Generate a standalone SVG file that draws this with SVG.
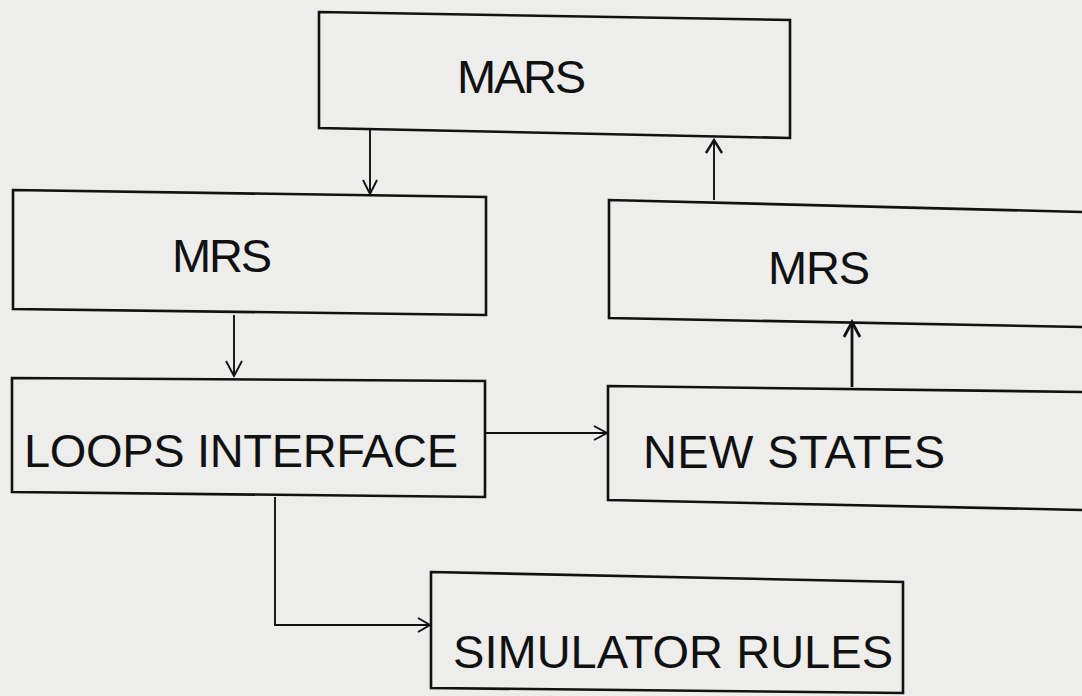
<svg xmlns="http://www.w3.org/2000/svg" width="1082" height="696" viewBox="0 0 1082 696">
<defs>
<style>
.box{fill:none;stroke:#111;stroke-width:2.6;stroke-linejoin:miter}
.lbl{font-family:"Liberation Sans",Arial,sans-serif;font-size:47px;fill:#111}
.con{fill:none;stroke:#111;stroke-width:1.9}
.head{fill:none;stroke:#111;stroke-width:1.9;stroke-linejoin:miter}
</style>
</defs>
<rect x="0" y="0" width="1082" height="696" fill="#ededeb"/>
<g id="mars">
<polygon class="box" points="319,12 790,20 790,138 319,128"/>
<text class="lbl" x="457" y="93" textLength="129">MARS</text>
</g>
<g id="mrs-left">
<polygon class="box" points="13,190 486,197 486,315 13,309"/>
<text class="lbl" x="172" y="272" textLength="100">MRS</text>
</g>
<g id="mrs-right">
<polygon class="box" points="1084,212 609,200 609,318 1084,327"/>
<text class="lbl" x="768" y="284" textLength="102">MRS</text>
</g>
<g id="loops-interface">
<polygon class="box" points="12,378 485,381 485,497 12,492"/>
<text class="lbl" x="24" y="467" textLength="434">LOOPS INTERFACE</text>
</g>
<g id="new-states">
<polygon class="box" points="1084,392 608,386 608,500 1084,510"/>
<text class="lbl" x="643" y="468" textLength="302">NEW STATES</text>
</g>
<g id="simulator-rules">
<polygon class="box" points="431,572 903,582 903,693 431,688"/>
<text class="lbl" x="453" y="668" textLength="440">SIMULATOR RULES</text>
</g>
<g id="connectors">
<path class="con" d="M370,130 V194"/>
<path class="head" d="M363,180 L370,194 L377,180"/>
<path class="con" d="M714,200 V140"/>
<path class="head" d="M706,153 L714,140 L722,153" style="stroke-width:2.4"/>
<path class="con" d="M234,315 V376"/>
<path class="head" d="M226,361 L234,376 L242,361"/>
<path class="con" d="M852,387 V322" style="stroke-width:2.8"/>
<path class="head" d="M844,337 L852,322 L860,337" style="stroke-width:2.8"/>
<path class="con" d="M486,433 H607"/>
<path class="head" d="M594,426 L607,433 L594,440"/>
<path class="con" d="M275,497 V625 H430"/>
<path class="head" d="M418,618 L430,625 L418,632"/>
</g>
</svg>
